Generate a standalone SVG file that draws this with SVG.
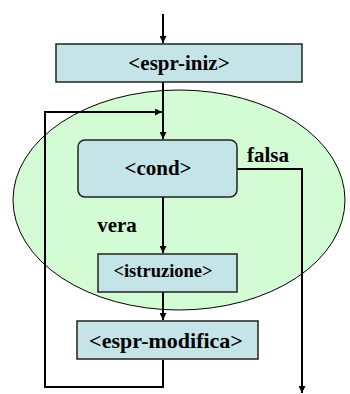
<svg xmlns="http://www.w3.org/2000/svg" width="350" height="394" viewBox="0 0 350 394">
  <style>
    .box { fill: #c4e4e8; stroke: #222; stroke-width: 1.5; }
    .lbl { font-family: 'Liberation Serif', 'Times New Roman', Times, serif; font-weight: 700; fill: #000; text-anchor: middle; }
    .edge { fill: none; stroke: #000; stroke-width: 2; }
  </style>
  <defs>
    <marker id="arrow" viewBox="0 0 10 10" refX="10" refY="5" markerWidth="4.5" markerHeight="3.5" orient="auto" markerUnits="strokeWidth">
      <path d="M0,0 L10,5 L0,10 z" fill="#000"/>
    </marker>
  </defs>

  <!-- loop body region -->
  <ellipse id="loop-area" cx="179" cy="200" rx="166" ry="110" fill="#d4fcd4" stroke="#000" stroke-width="1"/>

  <g id="connectors">
    <line class="edge" x1="163" y1="14" x2="163" y2="43" marker-end="url(#arrow)"/>
    <line class="edge" x1="163" y1="82" x2="163" y2="139" marker-end="url(#arrow)"/>
    <line class="edge" x1="163" y1="197" x2="163" y2="253" marker-end="url(#arrow)"/>
    <line class="edge" x1="163" y1="292" x2="163" y2="320" marker-end="url(#arrow)"/>
    <polyline class="edge" points="163,360 163,387 45,387 45,112 162,112" marker-end="url(#arrow)"/>
    <polyline class="edge" points="237,169 302,169 302,393" marker-end="url(#arrow)"/>
    <text class="lbl" x="268" y="162" font-size="21">falsa</text>
    <text class="lbl" x="117" y="232" font-size="21">vera</text>
  </g>

  <g id="espr-iniz">
    <rect class="box" x="56" y="44" width="246" height="38"/>
    <text class="lbl" x="179" y="70" font-size="21">&lt;espr-iniz&gt;</text>
  </g>

  <g id="cond">
    <rect class="box" x="78" y="140" width="159" height="57" rx="7"/>
    <text class="lbl" x="158" y="175" font-size="21">&lt;cond&gt;</text>
  </g>

  <g id="istruzione">
    <rect class="box" x="98" y="254" width="139" height="38"/>
    <text class="lbl" x="163" y="277" font-size="18.5">&lt;istruzione&gt;</text>
  </g>

  <g id="espr-modifica">
    <rect class="box" x="77" y="321" width="181" height="38"/>
    <text class="lbl" x="166" y="348" font-size="22">&lt;espr-modifica&gt;</text>
  </g>
</svg>
